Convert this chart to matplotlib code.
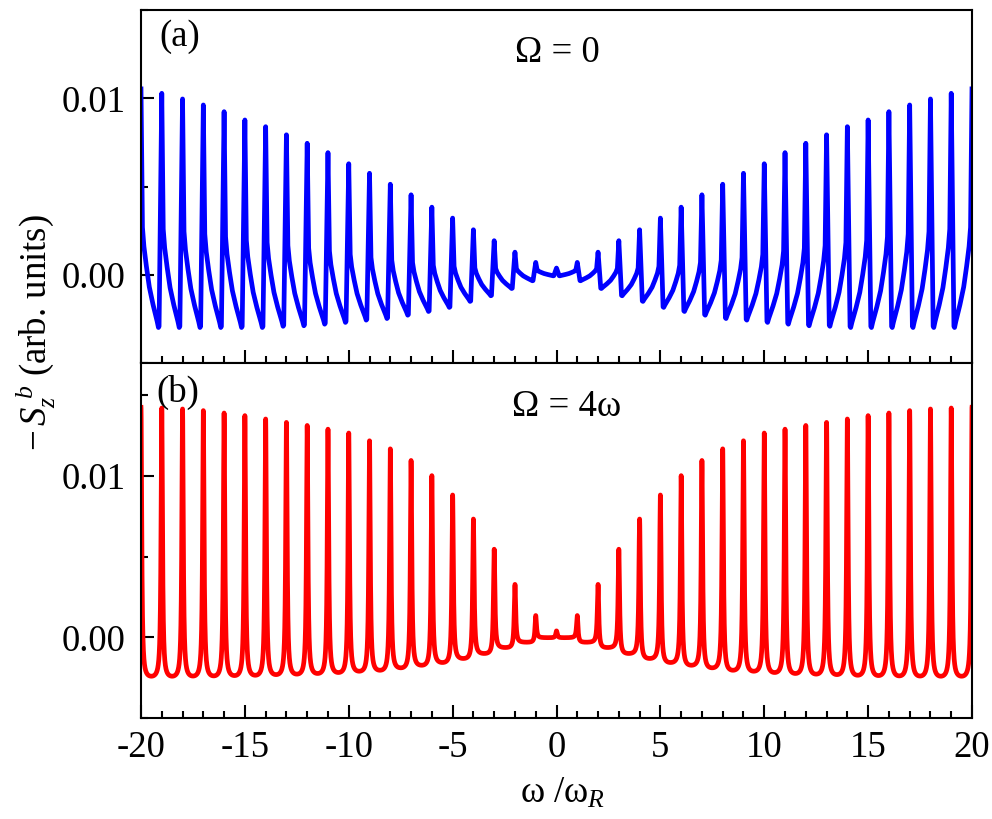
import numpy as np
import matplotlib
matplotlib.use("Agg")
import matplotlib.pyplot as plt
from matplotlib.ticker import MultipleLocator, FormatStrFormatter

plt.rcParams['font.family'] = ['Liberation Serif', 'DejaVu Serif']
plt.rcParams['mathtext.fontset'] = 'custom'
plt.rcParams['mathtext.rm'] = 'Liberation Serif'
plt.rcParams['mathtext.it'] = 'Liberation Serif:italic'
plt.rcParams['mathtext.bf'] = 'Liberation Serif:bold'
plt.rcParams['axes.unicode_minus'] = False

# ---------------- data (right half; curves are symmetric) ----
peak_pos = list(range(0, 21))                      # resonance positions omega/omega_R
# panel (a) Omega = 0 : peak heights at n = 0..20
blue_peaks = [0.00038, 0.0007, 0.00128, 0.00193, 0.00255, 0.00321, 0.00383, 0.00453,
              0.00513, 0.00575, 0.00629, 0.00692, 0.00745, 0.00793, 0.00839, 0.00877,
              0.00924, 0.00962, 0.00996, 0.01028, 0.01053]
# trough values in each interval [n, n+1], n = 0..19
blue_troughs = [-0.00006, -0.00034, -0.00078, -0.00119, -0.00151, -0.00185, -0.00208,
                -0.00229, -0.00248, -0.00257, -0.0027, -0.0028, -0.00289, -0.00292,
                -0.00299, -0.00299, -0.00299, -0.00299, -0.00299, -0.00299]
# panel (b) Omega = 4 omega : peak heights at n = 0..20
red_peaks = [0.0004, 0.00135, 0.00328, 0.00546, 0.00733, 0.00882, 0.01002, 0.01096,
             0.01168, 0.01218, 0.01266, 0.0129, 0.01313, 0.01332, 0.01353, 0.01374,
             0.0139, 0.01405, 0.01415, 0.01421, 0.01425]
red_troughs = [-0.00002, -0.0003, -0.00063, -0.001, -0.00131, -0.00156, -0.00173,
               -0.00189, -0.00204, -0.0021, -0.00218, -0.00224, -0.00228, -0.00231,
               -0.00235, -0.00237, -0.00239, -0.0024, -0.00241, -0.00241]

# line-shape descriptions
blue_t = [0.0, 0.13, 0.16, 0.22, 0.42, 0.6, 0.74, 0.86, 0.93]   # positions inside one interval
blue_frac = [None, 0.005, 0.0, 0.025, 0.096, 0.17, 0.256, 0.34, 0.42]
red_width = 0.04                                 # Lorentzian half width

def blue_curve():
    xs, ys = [], []
    for k in range(len(blue_troughs)):
        m = blue_troughs[k]
        R = blue_peaks[k + 1] - m
        for t, f in zip(blue_t, blue_frac):
            xs.append(peak_pos[k] + t)
            ys.append(blue_peaks[k] if f is None else m + f * R)
    xs.append(peak_pos[-1]); ys.append(blue_peaks[-1])
    xs = np.array(xs); ys = np.array(ys)
    return np.concatenate([-xs[::-1], xs[1:]]), np.concatenate([ys[::-1], ys[1:]])

def red_curve():
    g = red_width
    c = 1.0 / (1.0 + (0.5 / g) ** 2)
    P = lambda d: (1.0 / (1.0 + (d / g) ** 2) - c) / (1.0 - c)
    xs, ys = [np.array([0.0])], [np.array([red_peaks[0]])]
    t = np.linspace(0, 1, 801)[1:]
    for k in range(len(red_troughs)):
        m = red_troughs[k]
        h0, h1 = red_peaks[k], red_peaks[k + 1]
        M = np.array([[P(0.0), P(1.0)], [P(1.0), P(0.0)]])
        a0, a1 = np.linalg.solve(M, [h0 - m, h1 - m])
        xs.append(peak_pos[k] + t)
        ys.append(m + a0 * P(t) + a1 * P(1 - t))
    xs = np.concatenate(xs); ys = np.concatenate(ys)
    return np.concatenate([-xs[::-1], xs[1:]]), np.concatenate([ys[::-1], ys[1:]])

bx, by = blue_curve()
rx, ry = red_curve()

# ---------------- figure -------------------------------------------------------------
fig = plt.figure(figsize=(9.92, 8.19), dpi=100)
W, H = 992.0, 819.0
L, R_ = 141 / W, 972 / W
axa = fig.add_axes([L, 1 - 363 / H, R_ - L, (363 - 10) / H])
axb = fig.add_axes([L, 1 - 718 / H, R_ - L, (718 - 363) / H])

FS = 26.5
axa.plot(bx, by, color='#0000FF', lw=3.4, solid_joinstyle='round')
axb.plot(rx, ry, color='#FF0000', lw=3.4, solid_joinstyle='round')

axa.set_ylim(-0.005, 0.015)
axb.set_ylim(-0.005, 0.017)
for ax in (axa, axb):
    ax.set_xlim(-20, 20)
    ax.xaxis.set_major_locator(MultipleLocator(5))
    ax.xaxis.set_minor_locator(MultipleLocator(1))
    ax.yaxis.set_major_locator(MultipleLocator(0.01))
    ax.yaxis.set_minor_locator(MultipleLocator(0.005))
    ax.yaxis.set_major_formatter(FormatStrFormatter('%.2f'))
    ax.tick_params(which='both', direction='in', width=1.5, labelsize=FS,
                   top=False, right=False)
    ax.tick_params(which='major', length=9.5)
    ax.tick_params(which='minor', length=5)
    ax.tick_params(axis='y', pad=11)
    ax.tick_params(axis='x', pad=9)
    for s in ax.spines.values():
        s.set_linewidth(1.5)

axa.tick_params(axis='x', labelbottom=False)
axa.set_yticks([0.0, 0.01])
axb.set_yticks([0.0, 0.01])

axa.text(0.022, 0.923, '(a)', transform=axa.transAxes, fontsize=FS, va='center', ha='left')
axa.text(0.45, 0.878, 'Ω = 0', transform=axa.transAxes, fontsize=FS, va='center', ha='left')
axb.text(0.019, 0.918, '(b)', transform=axb.transAxes, fontsize=FS, va='center', ha='left')
axb.text(0.446, 0.876, 'Ω = 4ω', transform=axb.transAxes, fontsize=FS, va='center', ha='left')

fig.text(563 / W, 1 - 793 / H, r'$\mathrm{ω\ /ω}_{R}$', fontsize=FS, ha='center', va='center')
fig.text(36 / W, 1 - 333 / H, r'$-\,S_{z}^{\,\,b}$ (arb. units)', fontsize=FS,
         rotation=90, ha='center', va='center')

fig.savefig('out.png', dpi=100)
